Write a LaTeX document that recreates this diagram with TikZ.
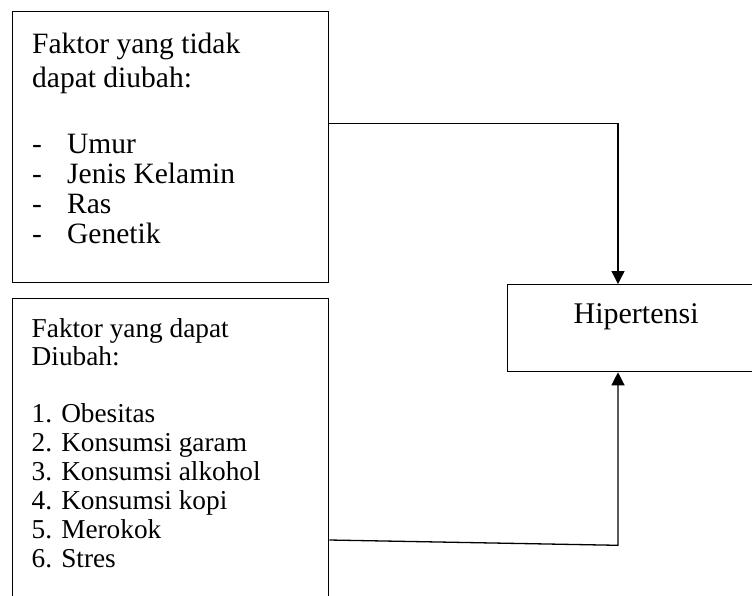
\documentclass[tikz,border=0pt]{standalone}
\usepackage{fontspec}
\setmainfont{Liberation Serif}
\usetikzlibrary{arrows.meta,calc}
\tikzset{
  kotak/.style={draw, rectangle, line width=1.3pt, inner sep=0pt, anchor=north west},
  isi/.style={inner sep=0pt, anchor=north west, align=left},
  panah/.style={line width=1.3pt, -{Triangle[length=13pt,width=13pt]}}
}
\begin{document}
\begin{tikzpicture}[x=1pt,y=-1pt]
\clip (0,0) rectangle (752,595);
% faktor yang tidak dapat diubah
\node[kotak, minimum width=316pt, minimum height=271pt] (tetap) at (12,10.5) {};
\node[isi, font=\fontsize{29.5}{30}\selectfont] (tetapisi) at ($(tetap.north west)+(20,22.5)$)
  {Faktor yang tidak\\[4pt] dapat diubah:\\[36pt]
   \makebox[35pt][l]{-}Umur\\ \makebox[35pt][l]{-}Jenis Kelamin\\
   \makebox[35pt][l]{-}Ras\\ \makebox[35pt][l]{-}Genetik};
% faktor yang dapat diubah
\node[kotak, minimum width=316pt, minimum height=330pt] (ubah) at (12,298) {};
\node[isi, font=\fontsize{27.3}{29}\selectfont] (ubahisi) at ($(ubah.north west)+(19.5,20.4)$)
  {Faktor yang dapat\\[-1pt] Diubah:\\[28pt]
   1. Obesitas\\ 2. Konsumsi garam\\ 3. Konsumsi alkohol\\
   4. Konsumsi kopi\\ 5. Merokok\\ 6. Stres};
% hipertensi
\node[kotak, minimum width=257pt, text height=39pt, text depth=48pt,
      font=\fontsize{30}{36}\selectfont] (hiper) at (507,284) {Hipertensi};
\coordinate (belok) at ($(hiper.south west)+(111,173)$);
\draw[panah] ($(tetap.north east)+(0,113)$) -| ($(hiper.north west)+(111,0)$);
\draw[panah] ($(ubah.north east)+(0,242)$) -- (belok) -- (belok |- hiper.south);
\end{tikzpicture}
\end{document}
